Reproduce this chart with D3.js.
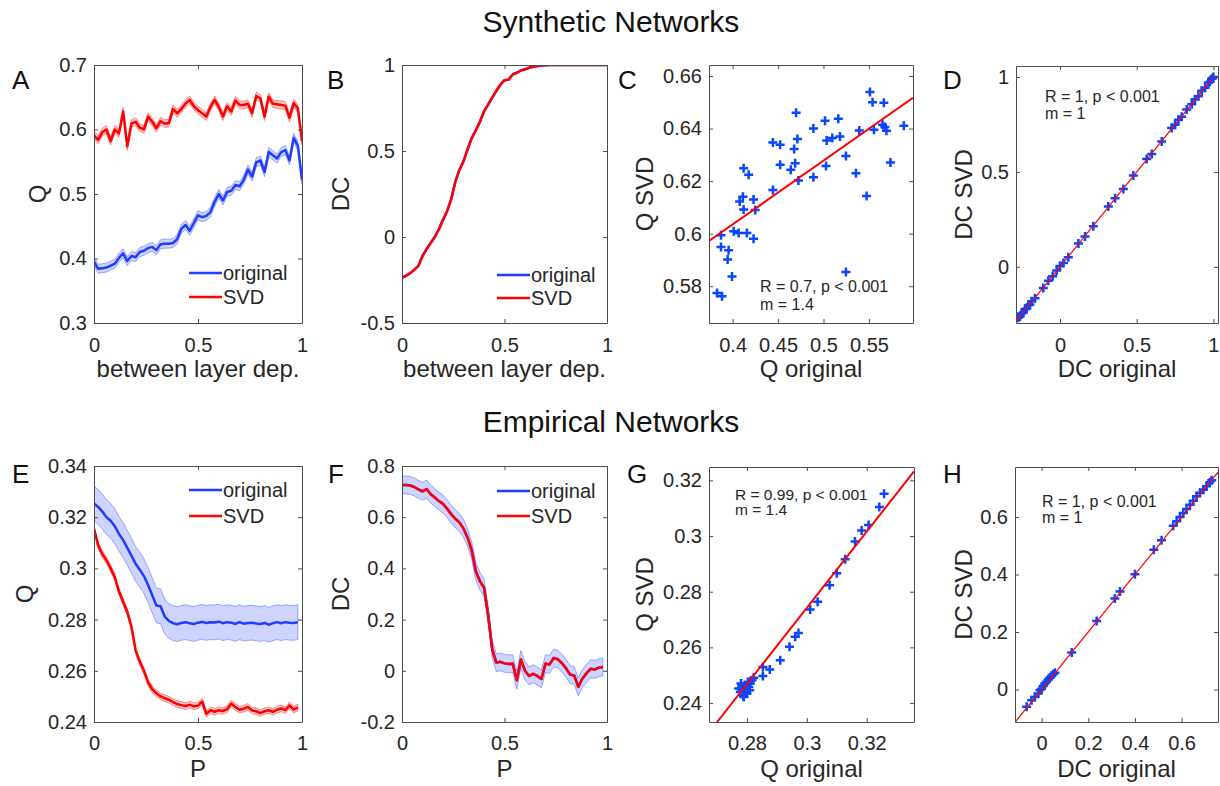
<!DOCTYPE html>
<html lang="en">
<head>
<meta charset="UTF-8">
<title>Synthetic and Empirical Networks</title>
<script src="https://cdn.jsdelivr.net/npm/d3@7"></script>
<style>
  body { margin: 0; background: #fff; }
  svg { display: block; font-family: "Liberation Sans", Arial, sans-serif; }
</style>
</head>
<body>
<script>
// ---- data ----
const depX = [0,0.02,0.04,0.06,0.08,0.1,0.12,0.14,0.16,0.18,0.2,0.22,0.24,0.26,0.28,0.3,0.32,0.34,0.36,0.38,0.4,0.42,0.44,0.46,0.48,0.5,0.52,0.54,0.56,0.58,0.6,0.62,0.64,0.66,0.68,0.7,0.72,0.74,0.76,0.78,0.8,0.82,0.84,0.86,0.88,0.9,0.92,0.94,0.96,0.98,1];
const pX = [0,0.02,0.04,0.06,0.08,0.1,0.12,0.14,0.16,0.18,0.2,0.22,0.24,0.26,0.28,0.3,0.32,0.34,0.36,0.38,0.4,0.42,0.44,0.46,0.48,0.5,0.52,0.54,0.56,0.58,0.6,0.62,0.64,0.66,0.68,0.7,0.72,0.74,0.76,0.78,0.8,0.82,0.84,0.86,0.88,0.9,0.92,0.94,0.96,0.98];

// A: Q vs between layer dependence
const qSynOrig = [0.395,0.384,0.385,0.386,0.389,0.392,0.401,0.408,0.396,0.404,0.402,0.410,0.412,0.416,0.418,0.413,0.422,0.423,0.423,0.424,0.430,0.446,0.452,0.443,0.455,0.467,0.464,0.466,0.472,0.488,0.500,0.490,0.503,0.505,0.514,0.512,0.522,0.538,0.527,0.549,0.552,0.534,0.565,0.560,0.555,0.565,0.568,0.552,0.587,0.575,0.522];
const qSynSvd = [0.591,0.584,0.596,0.600,0.582,0.600,0.594,0.628,0.574,0.609,0.612,0.603,0.600,0.620,0.612,0.602,0.613,0.609,0.610,0.632,0.625,0.632,0.640,0.646,0.636,0.630,0.625,0.620,0.635,0.646,0.635,0.620,0.636,0.628,0.645,0.638,0.638,0.640,0.625,0.652,0.648,0.620,0.651,0.640,0.639,0.638,0.637,0.618,0.641,0.633,0.582];
const qSynOrigErr = 0.007, qSynSvdErr = 0.006;

// B: DC vs between layer dependence (original and SVD overlap)
const dcSynOrig = [-0.238,-0.225,-0.210,-0.190,-0.168,-0.110,-0.070,-0.035,0.000,0.045,0.100,0.150,0.220,0.320,0.390,0.440,0.510,0.575,0.620,0.670,0.730,0.770,0.810,0.850,0.885,0.912,0.915,0.945,0.955,0.968,0.975,0.984,0.990,0.994,0.997,0.999,1,1,1,1,1,1,1,1,1,1,1,1,1,1,1];
const dcSynSvd = dcSynOrig;

// C: Q original vs Q SVD
const cOrig = [0.3828,0.3883,0.3872,0.3872,0.3956,0.3945,0.3993,0.4011,0.4066,0.4077,0.4113,0.4121,0.4121,0.4176,0.4157,0.4230,0.4230,0.4248,0.4443,0.4443,0.4523,0.4523,0.4640,0.4677,0.4713,0.4688,0.4699,0.4724,0.4889,0.4889,0.5017,0.5035,0.5028,0.5097,0.5163,0.5181,0.5247,0.5247,0.5357,0.5394,0.5474,0.5511,0.5540,0.5555,0.5664,0.5650,0.5675,0.5693,0.5737,0.5884];
const cSvd = [0.5774,0.5762,0.5994,0.5949,0.5937,0.5902,0.5837,0.6009,0.6003,0.6122,0.6141,0.6092,0.6249,0.6224,0.6003,0.5981,0.6130,0.6090,0.6166,0.6347,0.6338,0.6262,0.6243,0.6322,0.6360,0.6268,0.6460,0.6202,0.6400,0.6215,0.6430,0.6355,0.6258,0.6364,0.6437,0.6370,0.6296,0.5854,0.6230,0.6393,0.6143,0.6539,0.6500,0.6396,0.6498,0.6415,0.6406,0.6392,0.6271,0.6411];
const cFitX = [0.374, 0.5985], cFitY = [0.5972, 0.6517];

// D: DC original vs DC SVD
const dOrig = [-0.272,-0.261,-0.250,-0.239,-0.228,-0.217,-0.206,-0.196,-0.185,-0.163,-0.109,-0.076,-0.048,-0.022,0.000,0.022,0.054,0.120,0.163,0.217,0.315,0.359,0.413,0.478,0.565,0.598,0.663,0.728,0.750,0.772,0.793,0.826,0.859,0.880,0.902,0.924,0.946,0.967,0.978,0.989,0.995,1.000];
const dSvd = [-0.268,-0.262,-0.246,-0.241,-0.224,-0.219,-0.203,-0.198,-0.181,-0.165,-0.112,-0.074,-0.050,-0.019,0.004,0.020,0.051,0.123,0.160,0.214,0.318,0.361,0.410,0.481,0.568,0.595,0.660,0.731,0.748,0.775,0.790,0.829,0.856,0.883,0.899,0.927,0.944,0.970,0.975,0.991,0.993,1.000];
const dFitX = [-0.29, 1.0], dFitY = [-0.29, 1.0];

// E: Q vs P (empirical)
const qEmpOrig = [0.3254,0.3240,0.3222,0.3200,0.3186,0.3165,0.3135,0.3111,0.3080,0.3050,0.3018,0.2995,0.2970,0.2935,0.2895,0.2855,0.2852,0.2812,0.2795,0.2786,0.2782,0.2787,0.2790,0.2786,0.2783,0.2788,0.2791,0.2787,0.2790,0.2789,0.2792,0.2786,0.2790,0.2788,0.2783,0.2790,0.2784,0.2787,0.2788,0.2785,0.2783,0.2787,0.2780,0.2786,0.2790,0.2786,0.2790,0.2788,0.2787,0.2790];
const qEmpSvd = [0.3155,0.3090,0.3055,0.3032,0.3000,0.2965,0.2910,0.2870,0.2830,0.2772,0.2680,0.2635,0.2600,0.2555,0.2528,0.2512,0.2500,0.2493,0.2487,0.2478,0.2470,0.2466,0.2462,0.2468,0.2461,0.2464,0.2480,0.2432,0.2446,0.2440,0.2446,0.2443,0.2450,0.2472,0.2458,0.2448,0.2452,0.2459,0.2445,0.2442,0.2435,0.2442,0.2446,0.2440,0.2448,0.2453,0.2446,0.2465,0.2448,0.2457];
const qEmpOrigErr = 0.0068, qEmpSvdErr = 0.0013;

// F: DC vs P (empirical, original and SVD overlap)
const dcEmpOrig = [0.726,0.726,0.724,0.718,0.709,0.701,0.710,0.690,0.677,0.663,0.652,0.633,0.612,0.594,0.580,0.556,0.520,0.470,0.390,0.350,0.325,0.220,0.085,0.032,0.035,0.029,0.027,0.028,-0.037,0.044,0.000,-0.020,-0.012,-0.020,-0.032,0.028,0.025,0.050,0.045,0.030,0.010,-0.015,-0.018,-0.063,-0.030,-0.010,0.008,0.005,0.012,0.015];
const dcEmpSvd = dcEmpOrig;
const dcEmpOrigErr = 0.035;

// G: Q original vs Q SVD (empirical)
const gOrig = [0.2772,0.2778,0.2783,0.2787,0.2791,0.2794,0.2798,0.2800,0.2803,0.2806,0.2809,0.2811,0.2817,0.2780,0.2789,0.2796,0.2822,0.2853,0.2853,0.2876,0.2911,0.2942,0.2961,0.2972,0.3011,0.3036,0.3076,0.3100,0.3128,0.3161,0.3183,0.3206,0.3242,0.3258];
const gSvd = [0.2452,0.2440,0.2458,0.2428,0.2446,0.2464,0.2452,0.2434,0.2476,0.2458,0.2446,0.2470,0.2482,0.2470,0.2422,0.2440,0.2491,0.2530,0.2497,0.2521,0.2554,0.2602,0.2638,0.2652,0.2736,0.2764,0.2823,0.2866,0.2917,0.2980,0.3020,0.3040,0.3104,0.3152];
const gFitX = [0.27, 0.3358], gFitY = [0.2332, 0.3232];

// H: DC original vs DC SVD (empirical)
const hOrig = [-0.064,-0.043,-0.029,-0.014,-0.007,0.000,0.007,0.014,0.021,0.029,0.036,0.043,0.050,0.057,0.129,0.236,0.314,0.336,0.400,0.481,0.514,0.564,0.579,0.593,0.607,0.621,0.636,0.650,0.664,0.679,0.693,0.707,0.721,0.729];
const hSvd = [-0.060,-0.037,-0.026,-0.014,-0.002,0.003,0.012,0.021,0.027,0.035,0.042,0.048,0.053,0.058,0.129,0.238,0.317,0.341,0.401,0.486,0.519,0.570,0.585,0.600,0.614,0.628,0.643,0.657,0.672,0.684,0.695,0.707,0.721,0.728];
const hFitX = [-0.114, 0.756], hFitY = [-0.114, 0.756];

const seriesNames = ["original", "SVD"];

// ---- drawing ----
const FONT = '"Liberation Sans", Arial, sans-serif';
const BLUE = "#1f3dff", RED = "#ff0000", INK = "#262626";

const svg = d3.select("body").append("svg")
    .attr("width", 1220)
    .attr("height", 786);
const defs = svg.append("defs");

const fmt = v => String(+v.toFixed(3));

function makeAxes(p) {
    const x = d3.scaleLinear().domain(p.xDom).range([p.left, p.right]);
    const y = d3.scaleLinear().domain(p.yDom).range([p.bottom, p.top]);
    defs.append("clipPath").attr("id", "clip-" + p.id)
        .append("rect")
        .attr("x", p.left).attr("y", p.top)
        .attr("width", p.right - p.left).attr("height", p.bottom - p.top);
    const g = svg.append("g");
    const plot = g.append("g").attr("clip-path", `url(#clip-${p.id})`);
    return { x, y, g, plot };
}

function finishAxes(p, a) {
    const { x, y, g } = a;
    const ax = g.append("g");
    ax.append("g").attr("transform", `translate(0,${p.bottom})`)
        .call(d3.axisBottom(x).tickValues(p.xTicks).tickFormat(fmt)
            .tickSizeInner(-4).tickSizeOuter(0).tickPadding(p.xPad || 15));
    ax.append("g").attr("transform", `translate(0,${p.top})`)
        .call(d3.axisTop(x).tickValues(p.xTicks).tickFormat("")
            .tickSizeInner(-4).tickSizeOuter(0));
    ax.append("g").attr("transform", `translate(${p.left},0)`)
        .call(d3.axisLeft(y).tickValues(p.yTicks).tickFormat(fmt)
            .tickSizeInner(-4).tickSizeOuter(0).tickPadding(7));
    ax.append("g").attr("transform", `translate(${p.right},0)`)
        .call(d3.axisRight(y).tickValues(p.yTicks).tickFormat("")
            .tickSizeInner(-4).tickSizeOuter(0));
    ax.selectAll("path.domain, .tick line").attr("stroke", "#4d4d4d").attr("stroke-width", 1);
    ax.selectAll("text")
        .attr("font-size", 20).attr("font-family", FONT).attr("fill", INK);

    // axis labels
    g.append("text")
        .attr("x", (p.left + p.right) / 2).attr("y", p.xLabelY)
        .attr("text-anchor", "middle").attr("font-size", 24).attr("fill", INK)
        .text(p.xLabel);
    g.append("text")
        .attr("transform", `translate(${p.yLabelX},${(p.top + p.bottom) / 2}) rotate(-90)`)
        .attr("text-anchor", "middle").attr("font-size", 24).attr("fill", INK)
        .text(p.yLabel);
    // panel letter
    g.append("text")
        .attr("x", p.letterX).attr("y", p.letterY)
        .attr("font-size", 26).attr("fill", "#111")
        .text(p.id);
}

function bandLine(a, xs, ys, err, color, width) {
    if (err) {
        const area = d3.area()
            .x((d, i) => a.x(xs[i]))
            .y0(d => a.y(d - err))
            .y1(d => a.y(d + err));
        a.plot.append("path").datum(ys)
            .attr("d", area)
            .attr("fill", color).attr("fill-opacity", 0.22)
            .attr("stroke", color).attr("stroke-opacity", 0.4).attr("stroke-width", 1);
    }
    const line = d3.line().x((d, i) => a.x(xs[i])).y(d => a.y(d));
    a.plot.append("path").datum(ys)
        .attr("d", line)
        .attr("fill", "none").attr("stroke", color)
        .attr("stroke-width", width).attr("stroke-linejoin", "round");
}

function legend(a, lx, ly, dy) {
    const lg = a.g.append("g");
    [BLUE, RED].forEach((c, i) => {
        lg.append("line")
            .attr("x1", lx).attr("x2", lx + 33)
            .attr("y1", ly + i * dy).attr("y2", ly + i * dy)
            .attr("stroke", c).attr("stroke-width", 2.5);
        lg.append("text")
            .attr("x", lx + 34).attr("y", ly + i * dy + 7)
            .attr("font-size", 20).attr("fill", INK)
            .text(seriesNames[i]);
    });
}

function scatter(a, xs, ys, fitX, fitY, fitWidth) {
    a.plot.selectAll(null).data(xs).enter().append("path")
        .attr("transform", (d, i) => `translate(${a.x(d)},${a.y(ys[i])})`)
        .attr("d", "M-4.5,0H4.5M0,-4.5V4.5")
        .attr("stroke", "#0a46ff").attr("stroke-width", 2.5).attr("fill", "none");
    a.plot.append("line")
        .attr("x1", a.x(fitX[0])).attr("y1", a.y(fitY[0]))
        .attr("x2", a.x(fitX[1])).attr("y2", a.y(fitY[1]))
        .attr("stroke", RED).attr("stroke-width", fitWidth);
}

function stats(a, sx, sy, gap, size, l1, l2) {
    a.g.append("text").attr("x", sx).attr("y", sy)
        .attr("font-size", size).attr("fill", INK).text(l1);
    a.g.append("text").attr("x", sx).attr("y", sy + gap)
        .attr("font-size", size).attr("fill", INK).text(l2);
}

// titles
svg.append("text").attr("x", 611).attr("y", 32).attr("text-anchor", "middle")
    .attr("font-size", 30).attr("fill", "#111").text("Synthetic Networks");
svg.append("text").attr("x", 611).attr("y", 432).attr("text-anchor", "middle")
    .attr("font-size", 30).attr("fill", "#111").text("Empirical Networks");

// Panel A
const pA = { id: "A", left: 94, right: 302, top: 65, bottom: 323, xDom: [0, 1], yDom: [0.3, 0.7],
    xTicks: [0, 0.5, 1], yTicks: [0.3, 0.4, 0.5, 0.6, 0.7], xLabel: "between layer dep.", yLabel: "Q",
    xLabelY: 377, yLabelX: 46, letterX: 12, letterY: 89 };
const aA = makeAxes(pA);
bandLine(aA, depX, qSynOrig, qSynOrigErr, BLUE, 2.5);
bandLine(aA, depX, qSynSvd, qSynSvdErr, RED, 2.5);
finishAxes(pA, aA);
legend(aA, 189, 273, 24);

// Panel B
const pB = { id: "B", left: 402, right: 607, top: 65, bottom: 323, xDom: [0, 1], yDom: [-0.5, 1],
    xTicks: [0, 0.5, 1], yTicks: [-0.5, 0, 0.5, 1], xLabel: "between layer dep.", yLabel: "DC",
    xLabelY: 377, yLabelX: 349, letterX: 327, letterY: 89 };
const aB = makeAxes(pB);
bandLine(aB, depX, dcSynOrig, 0, BLUE, 2.5);
bandLine(aB, depX, dcSynSvd, 0, RED, 2.5);
finishAxes(pB, aB);
legend(aB, 497, 275, 23);

// Panel C
const pC = { id: "C", left: 709, right: 913, top: 65, bottom: 323, xDom: [0.374, 0.5985], yDom: [0.566, 0.6642],
    xTicks: [0.4, 0.45, 0.5, 0.55], yTicks: [0.58, 0.6, 0.62, 0.64, 0.66], xLabel: "Q original", yLabel: "Q SVD",
    xLabelY: 377, yLabelX: 653, letterX: 618, letterY: 89 };
const aC = makeAxes(pC);
scatter(aC, cOrig, cSvd, cFitX, cFitY, 2);
finishAxes(pC, aC);
stats(aC, 760, 292, 18, 16, "R = 0.7, p < 0.001", "m = 1.4");

// Panel D
const pD = { id: "D", left: 1016, right: 1218, top: 66, bottom: 323, xDom: [-0.287, 1.03], yDom: [-0.296, 1.058],
    xTicks: [0, 0.5, 1], yTicks: [0, 0.5, 1], xLabel: "DC original", yLabel: "DC SVD",
    xLabelY: 377, yLabelX: 972, letterX: 943, letterY: 89 };
const aD = makeAxes(pD);
scatter(aD, dOrig, dSvd, dFitX, dFitY, 1.2);
finishAxes(pD, aD);
stats(aD, 1045, 102, 17, 16, "R = 1, p < 0.001", "m = 1");

// Panel E
const pE = { id: "E", left: 94, right: 302, top: 466, bottom: 722, xDom: [0, 1], yDom: [0.24, 0.34],
    xTicks: [0, 0.5, 1], yTicks: [0.24, 0.26, 0.28, 0.3, 0.32, 0.34], xLabel: "P", yLabel: "Q",
    xLabelY: 777, yLabelX: 33, letterX: 12, letterY: 483, xPad: 14 };
const aE = makeAxes(pE);
bandLine(aE, pX, qEmpOrig, qEmpOrigErr, BLUE, 2.5);
bandLine(aE, pX, qEmpSvd, qEmpSvdErr, RED, 2.5);
finishAxes(pE, aE);
legend(aE, 189, 490, 26);

// Panel F
const pF = { id: "F", left: 402, right: 607, top: 466, bottom: 722, xDom: [0, 1], yDom: [-0.2, 0.8],
    xTicks: [0, 0.5, 1], yTicks: [-0.2, 0, 0.2, 0.4, 0.6, 0.8], xLabel: "P", yLabel: "DC",
    xLabelY: 777, yLabelX: 349, letterX: 328, letterY: 483, xPad: 14 };
const aF = makeAxes(pF);
bandLine(aF, pX, dcEmpOrig, dcEmpOrigErr, BLUE, 2.5);
bandLine(aF, pX, dcEmpSvd, 0, RED, 2.5);
finishAxes(pF, aF);
legend(aF, 497, 491, 25);

// Panel G
const pG = { id: "G", left: 709, right: 914, top: 467, bottom: 722, xDom: [0.2673, 0.3358], yDom: [0.2332, 0.3248],
    xTicks: [0.28, 0.3, 0.32], yTicks: [0.24, 0.26, 0.28, 0.3, 0.32], xLabel: "Q original", yLabel: "Q SVD",
    xLabelY: 777, yLabelX: 653, letterX: 627, letterY: 483, xPad: 14 };
const aG = makeAxes(pG);
scatter(aG, gOrig, gSvd, gFitX, gFitY, 2);
finishAxes(pG, aG);
stats(aG, 735, 500, 15, 15.5, "R = 0.99, p < 0.001", "m = 1.4");

// Panel H
const pH = { id: "H", left: 1015, right: 1218, top: 467, bottom: 722, xDom: [-0.114, 0.756], yDom: [-0.113, 0.774],
    xTicks: [0, 0.2, 0.4, 0.6], yTicks: [0, 0.2, 0.4, 0.6], xLabel: "DC original", yLabel: "DC SVD",
    xLabelY: 777, yLabelX: 972, letterX: 943, letterY: 483, xPad: 14 };
const aH = makeAxes(pH);
scatter(aH, hOrig, hSvd, hFitX, hFitY, 1.2);
finishAxes(pH, aH);
stats(aH, 1042, 507, 16, 16, "R = 1, p < 0.001", "m = 1");
</script>
</body>
</html>
